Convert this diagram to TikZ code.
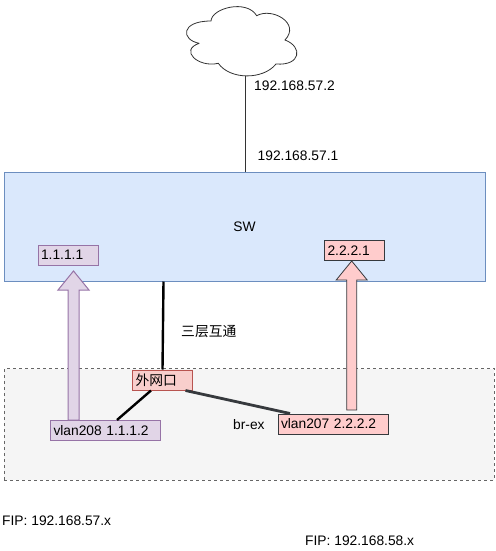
\documentclass[tikz,border=0pt]{standalone}
\usepackage{fontspec}
\setmainfont{Liberation Sans}
\newfontfamily\cjk{Noto Sans CJK SC}
\definecolor{swfill}{HTML}{DAE8FC}
\definecolor{swline}{HTML}{6C8EBF}
\definecolor{purplefill}{HTML}{E1D5E7}
\definecolor{purpleline}{HTML}{9673A6}
\definecolor{redfill}{HTML}{F8CECC}
\definecolor{redline}{HTML}{B85450}
\definecolor{pinkfill}{HTML}{FFCCCC}
\definecolor{pinkline}{HTML}{36393D}
\definecolor{zonefill}{HTML}{F5F5F5}
\definecolor{zoneline}{HTML}{666666}
\tikzset{
  lbl/.style={inner sep=0pt,font=\fontsize{13.8}{16}\selectfont},
  port/.style={draw,line width=1pt,minimum height=20pt,inner xsep=3pt,inner ysep=0pt,align=left,
    font=\fontsize{13.8}{16}\selectfont},
  purpleport/.style={port,fill=purplefill,draw=purpleline},
  pinkport/.style={port,fill=pinkfill,draw=pinkline},
}
\begin{document}
\begin{tikzpicture}[x=1pt,y=-1pt]
  \useasboundingbox (0,0) rectangle (495,551);
  % zones
  \node[draw=swline,fill=swfill,line width=1pt,minimum width=481.5pt,minimum height=109pt,inner sep=0pt]
    (swbox) at (244.75,226.5) {};
  \node[draw=zoneline,fill=zonefill,dashed,line width=.7pt,minimum width=490pt,minimum height=111.5pt,inner sep=0pt]
    (zone) at (249,424.25) {};
  % cloud
  \draw[draw=black!80,fill=white,line width=.8pt] (199.3,43.3)
    .. controls (181,40) and (180,21) .. (211,21)
    .. controls (211.7,8) and (246.7,-1) .. (256.7,15.7)
    .. controls (272,7) and (301,23.3) .. (285,40)
    .. controls (303,46.7) and (301,66) .. (276,64)
    .. controls (263.3,80) and (230,80) .. (218.3,63.3)
    .. controls (198,68) and (179,50) .. (199.3,43.3);
  \coordinate (cloudfoot) at (245.7,76);
  \coordinate (swfoot) at (163.5,281.5);
  % ports
  \node[purpleport,text width=54.5pt] (ipa) at (68.25,255) {1.1.1.1};
  \node[pinkport,text width=54pt] (ipb) at (354.5,250.5) {2.2.2.1};
  \node[port,fill=redfill,draw=redline,text width=54pt] (outport) at (162.5,380) {\cjk 外网口};
  \node[purpleport,text width=104pt] (vlana) at (105.5,430.5) {vlan208 1.1.1.2};
  \node[pinkport,text width=104pt] (vlanb) at (333,424) {vlan207 2.2.2.2};
  % links
  \draw[black!80,line width=.8pt] (cloudfoot) -- (cloudfoot |- swbox.north);
  \draw[line width=2.4pt] (swfoot) -- (outport.north);
  \draw[line width=2.4pt] ([xshift=-11.5pt]outport.south) -- ([xshift=11.5pt]vlana.north);
  \draw[pinkline,line width=2.8pt] ([xshift=23pt]outport.south) -- ([xshift=-43pt]vlanb.north);
  % block arrows
  \coordinate (tailb) at (73.5,420);
  \draw[draw=purpleline,fill=purplefill,line width=1pt] (tailb) +(-5.5,0) -- +(-5.5,-130) -- +(-15.5,-130)
    -- +(0,-149) -- +(15.5,-130) -- +(5.5,-130) -- +(5.5,0) -- cycle;
  \coordinate (taila) at (351.7,410);
  \draw[draw=pinkline,fill=pinkfill,line width=.8pt] (taila) +(-5,0) -- +(-5,-130) -- +(-15.5,-130)
    -- +(0,-149) -- +(15.5,-130) -- +(5,-130) -- +(5,0) -- cycle;
  % texts
  \node[lbl,anchor=west] (ipup) at (254,86) {192.168.57.2};
  \node[lbl,anchor=west] (ipdown) at (257.5,156) {192.168.57.1};
  \node[lbl] (swname) at (244.5,227) {SW};
  \node[lbl,anchor=west] (layer) at (181,332) {\cjk 三层互通};
  \node[lbl,anchor=west] (brex) at (233,425) {br-ex};
  \node[lbl,anchor=west] (fipa) at (2,521) {FIP: 192.168.57.x};
  \node[lbl,anchor=west] (fipb) at (305,541) {FIP: 192.168.58.x};
\end{tikzpicture}
\end{document}
